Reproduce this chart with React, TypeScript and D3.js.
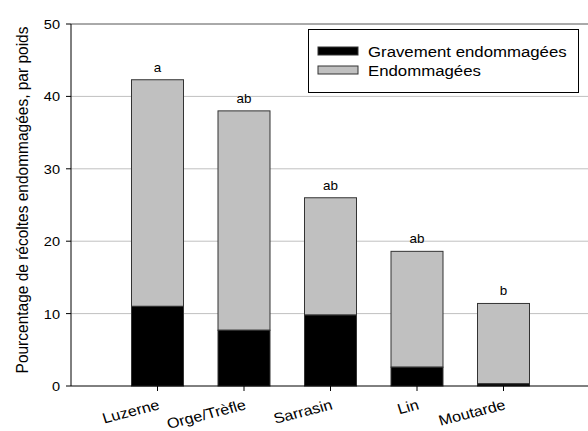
import * as d3 from "d3";

// données
const categories = ["Luzerne", "Orge/Trèfle", "Sarrasin", "Lin", "Moutarde"];
const graves = [11.0, 7.7, 9.8, 2.6, 0.3];
const totales = [42.3, 38.0, 26.0, 18.6, 11.4];
const lettres = ["a", "ab", "ab", "ab", "b"];
const yTicks = [0, 10, 20, 30, 40, 50];

const width = 588;
const height = 431;
const marginLeft = 71;
const marginTop = 24;
const chartBottomY = 386;
const font = "'Liberation Sans', Arial, sans-serif";
const sx = 1.12; // le texte de l'original est un peu étiré en largeur

// texte étiré horizontalement
const T = ({ x, y, size, anchor = "start", rot = 0, children }: any) => (
  <text
    transform={`translate(${x},${y}) scale(${sx},1) rotate(${rot})`}
    textAnchor={anchor}
    fontSize={size}
  >
    {children}
  </text>
);

const App = () => {
  const xScale = d3
    .scalePoint<string>()
    .domain(categories)
    .range([marginLeft, 590])
    .padding(1);

  const yScale = d3.scaleLinear().domain([0, 50]).range([chartBottomY, marginTop]);
  const barWidth = 52;

  return (
    <svg
      width={width}
      height={height}
      style={{ position: "absolute", left: 0, top: 0, background: "white" }}
      fontFamily={font}
    >
      {/* grille */}
      {yTicks
        .filter((t) => t > 0 && t < 50)
        .map((t) => (
          <line
            key={t}
            x1={marginLeft}
            x2={width}
            y1={yScale(t)}
            y2={yScale(t)}
            stroke="#c0c0c0"
            strokeWidth={1}
          />
        ))}
      {/* barres */}
      {categories.map((c, i) => {
        const x = xScale(c)! - barWidth / 2;
        return (
          <g key={c}>
            <rect
              x={x}
              y={yScale(totales[i])}
              width={barWidth}
              height={yScale(graves[i]) - yScale(totales[i])}
              fill="#c0c0c0"
              stroke="#333"
              strokeWidth={1}
            />
            <rect
              x={x}
              y={yScale(graves[i])}
              width={barWidth}
              height={chartBottomY - yScale(graves[i])}
              fill="black"
              stroke="#333"
              strokeWidth={1}
            />
            <T x={xScale(c)} y={yScale(totales[i]) - 8} size={12} anchor="middle">
              {lettres[i]}
            </T>
          </g>
        );
      })}
      {/* cadre */}
      <line x1={marginLeft} x2={width} y1={marginTop} y2={marginTop} stroke="#555" />
      <line x1={marginLeft} x2={width} y1={chartBottomY} y2={chartBottomY} stroke="black" />
      <line x1={marginLeft} x2={marginLeft} y1={marginTop} y2={chartBottomY} stroke="black" />
      {/* axe Y */}
      {yTicks.map((t) => (
        <g key={t}>
          <line x1={marginLeft - 5} x2={marginLeft} y1={yScale(t)} y2={yScale(t)} stroke="black" />
          <T x={marginLeft - 11} y={yScale(t) + 5} size={13} anchor="end">
            {t}
          </T>
        </g>
      ))}
      <text
        transform={`translate(28,200) rotate(-90) scale(1,${sx})`}
        textAnchor="middle"
        fontSize={15.5}
      >
        Pourcentage de récoltes endommagées, par poids
      </text>
      {/* axe X */}
      {categories.map((c) => (
        <g key={c}>
          <line
            x1={xScale(c)}
            x2={xScale(c)}
            y1={chartBottomY}
            y2={chartBottomY + 5}
            stroke="black"
          />
          <T x={xScale(c)! + 3} y={chartBottomY + 23} size={14.5} anchor="end" rot={-16}>
            {c}
          </T>
        </g>
      ))}
      {/* légende */}
      <rect x={308.5} y={29.5} width={270} height={63} fill="white" stroke="black" />
      <rect x={318} y={47} width={40} height={8} fill="black" stroke="#333" />
      <rect x={318} y={66} width={40} height={8} fill="#c0c0c0" stroke="#333" />
      <T x={368} y={57} size={15}>
        Gravement endommagées
      </T>
      <T x={368} y={76} size={15}>
        Endommagées
      </T>
    </svg>
  );
};

export default App;
